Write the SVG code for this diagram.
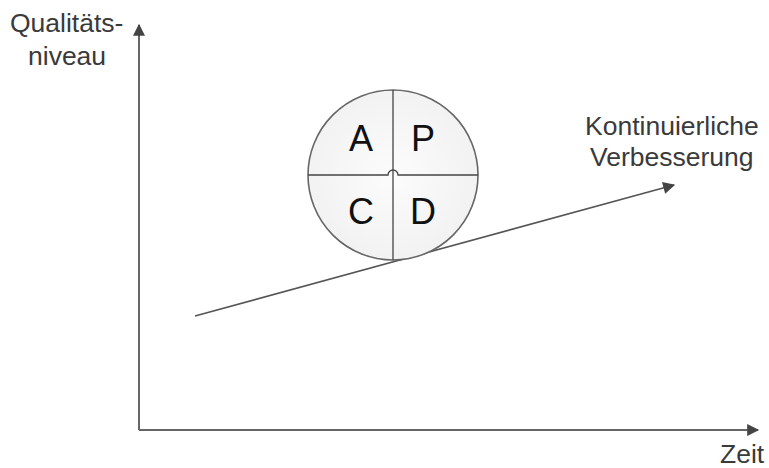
<svg xmlns="http://www.w3.org/2000/svg" width="769" height="468" viewBox="0 0 769 468">
<style>
.t{font-family:"Liberation Sans",Arial,sans-serif;font-size:26.5px;fill:#3a3a3a}
.l{font-family:"Liberation Sans",Arial,sans-serif;font-size:36px;fill:#111;text-anchor:middle}
.ax{stroke:#666;stroke-width:2;fill:none}
.div{stroke:#444;stroke-width:1.3;fill:none}
</style>
<defs>
<marker id="ah2" viewBox="0 0 10 10" refX="9" refY="5" markerWidth="13" markerHeight="12" orient="auto" markerUnits="userSpaceOnUse">
<path d="M0,0 L10,5 L0,10 z" fill="#444"/>
</marker>
<radialGradient id="g" cx="0.5" cy="0.5" r="0.6">
<stop offset="0" stop-color="#fcfcfc"/>
<stop offset="1" stop-color="#f0f0f0"/>
</radialGradient>
</defs>
<rect width="769" height="468" fill="#fff"/>
<g id="connectors">
<line class="ax" x1="139" y1="430" x2="139" y2="25" marker-end="url(#ah2)"/>
<line class="ax" x1="139" y1="430" x2="758" y2="430" marker-end="url(#ah2)"/>
<line class="ax" x1="195" y1="316" x2="674" y2="185" style="stroke:#555;stroke-width:1.6" marker-end="url(#ah2)"/>
</g>
<g id="pdca">
<circle cx="393" cy="175" r="85" fill="url(#g)" stroke="#666" stroke-width="1.6"/>
<line class="div" x1="393" y1="90" x2="393" y2="260"/>
<path class="div" d="M308,175 L388,175 A5,5 0 0 1 398,175 L478,175"/>
<text class="l" x="361" y="151">A</text>
<text class="l" x="423" y="151">P</text>
<text class="l" x="361" y="224">C</text>
<text class="l" x="423" y="224">D</text>
</g>
<g id="labels">
<text class="t" x="10" y="32">Qualitäts-</text>
<text class="t" x="28" y="65">niveau</text>
<text class="t" x="585" y="135">Kontinuierliche</text>
<text class="t" x="590" y="166">Verbesserung</text>
<text class="t" x="720" y="463">Zeit</text>
</g>
</svg>
